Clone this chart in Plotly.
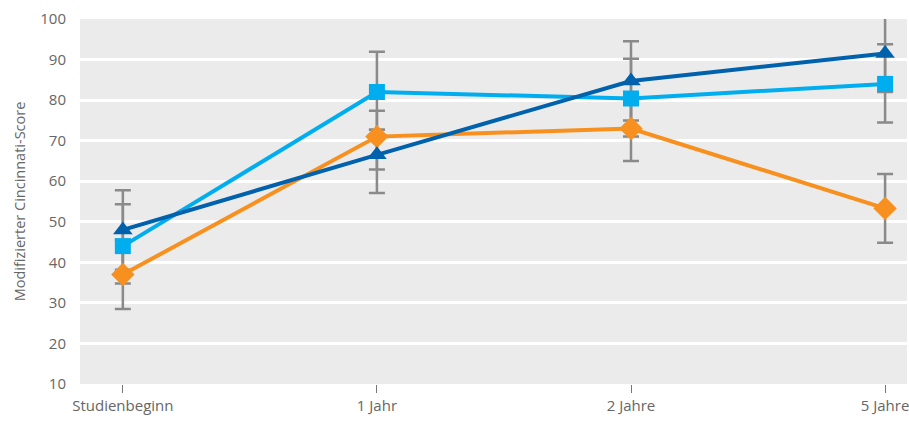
import plotly.graph_objects as go

categories = ["Studienbeginn", "1 Jahr", "2 Jahre", "5 Jahre"]
x_pos = [0, 1, 2, 3]

dark_vals = [48.0, 66.5, 84.7, 91.5]
dark_err_plus = [9.8, 6.2, 9.8, 9.5]
dark_err_minus = [9.8, 9.4, 9.7, 9.5]

light_vals = [44.0, 82.0, 80.4, 84.0]
light_err_plus = [10.3, 9.9, 9.8, 9.8]
light_err_minus = [9.2, 9.3, 9.4, 9.5]

orange_vals = [37.0, 71.0, 73.0, 53.3]
orange_err_plus = [8.5, 6.4, 8.0, 8.5]
orange_err_minus = [8.5, 8.1, 8.0, 8.5]

y_ticks = [10, 20, 30, 40, 50, 60, 70, 80, 90, 100]

GRAY = "#8a8a8a"
TXT = "#666666"

series = [
    (orange_vals, orange_err_plus, orange_err_minus, "#F7901E", "diamond", 18),
    (light_vals, light_err_plus, light_err_minus, "#00AEEF", "square", 16),
    (dark_vals, dark_err_plus, dark_err_minus, "#0061AD", "triangle-up", 17),
]

fig = go.Figure()

# error bars first (beneath all lines/markers)
for vals, ep, em, color, sym, size in series:
    fig.add_trace(go.Scatter(
        x=x_pos, y=vals, mode="markers",
        marker=dict(size=2, color="rgba(0,0,0,0)"),
        error_y=dict(type="data", symmetric=False, array=ep, arrayminus=em,
                     color=GRAY, thickness=2.5, width=8),
        showlegend=False, hoverinfo="skip",
    ))

for vals, ep, em, color, sym, size in series:
    fig.add_trace(go.Scatter(
        x=x_pos, y=vals, mode="lines+markers",
        line=dict(color=color, width=4),
        marker=dict(symbol=sym, size=size, color=color),
        showlegend=False,
    ))

fig.update_layout(
    width=909, height=422,
    margin=dict(l=80, r=0, t=19, b=38),
    paper_bgcolor="white",
    plot_bgcolor="#EBEBEB",
    font=dict(family="Open Sans, sans-serif", color=TXT, size=15),
    xaxis=dict(
        range=[-43 / 255, 3 + 22 / 255],
        tickvals=x_pos, ticktext=categories,
        showgrid=False, zeroline=False, showline=False,
        ticks="outside", ticklen=8, tickwidth=1.2, tickcolor="#777777",
        tickfont=dict(size=15, color=TXT),
        ticklabeloverflow="allow",
        fixedrange=True,
    ),
    yaxis=dict(
        range=[10, 100],
        tickvals=y_ticks,
        showgrid=True, gridcolor="white", gridwidth=2.5,
        zeroline=False, showline=False,
        ticks="", ticklabelstandoff=13,
        tickfont=dict(size=15, color=TXT),
        title=dict(text="Modifizierter Cincinnati-Score",
                   font=dict(size=14.5, color=TXT), standoff=11),
        fixedrange=True,
    ),
)

fig.write_html("out.html")
